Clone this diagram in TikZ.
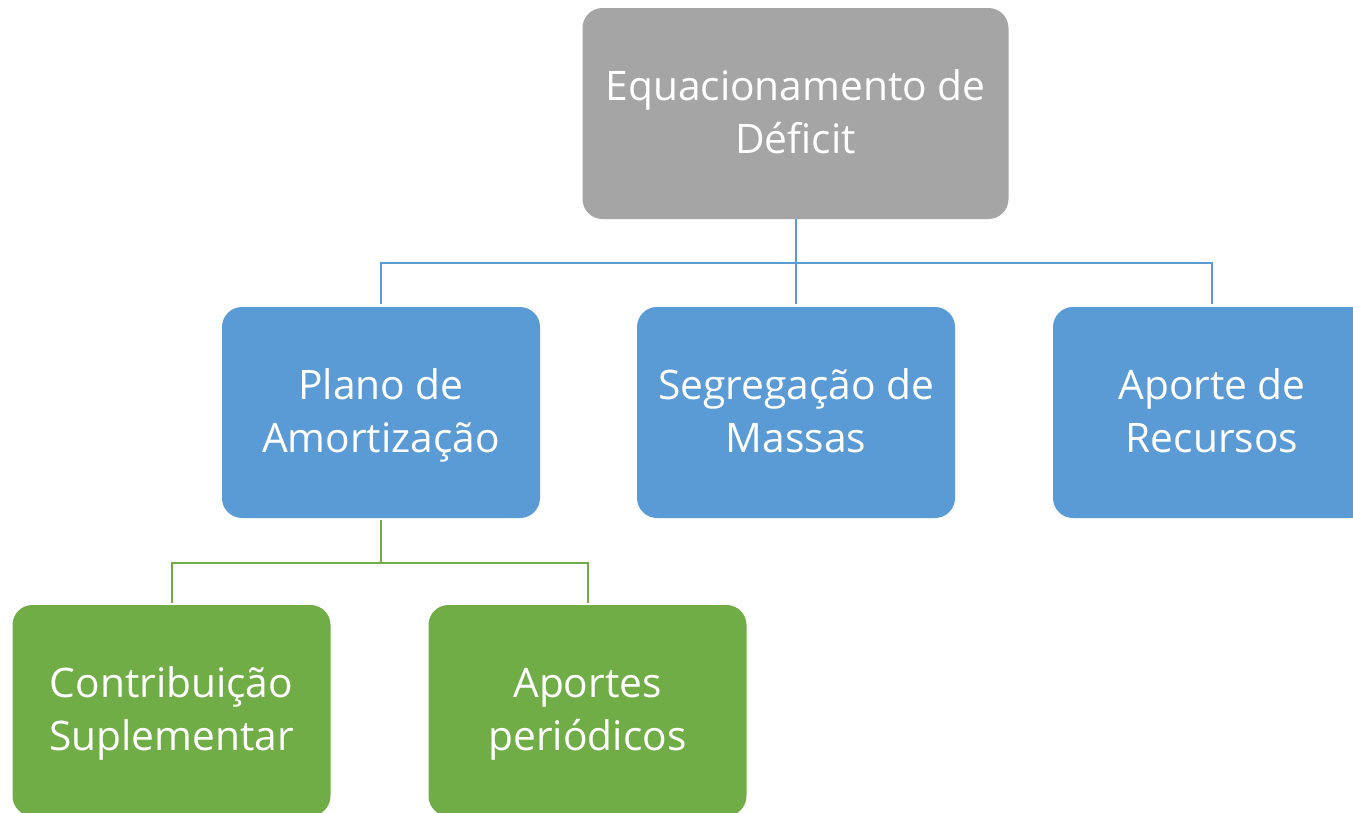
\documentclass[tikz,border=0pt]{standalone}
\usepackage{fontspec}
\setmainfont{Open Sans}
\definecolor{boxgray}{HTML}{A5A5A5}
\definecolor{boxblue}{HTML}{5B9BD5}
\definecolor{boxgreen}{HTML}{70AD47}
\newcommand\lnstrut{\rule[-13pt]{0pt}{53pt}}
\newcommand\twolines[2]{#1\lnstrut\\#2\lnstrut}
\begin{document}
\begin{tikzpicture}[x=1pt,y=-1pt,
  box/.style={rounded corners=20pt, inner sep=0pt, align=center, text=white,
    font=\fontsize{40.7}{53}\selectfont, minimum width=318pt, minimum height=211pt},
  graybox/.style={box, fill=boxgray, minimum width=426pt},
  bluebox/.style={box, fill=boxblue},
  greenbox/.style={box, fill=boxgreen},
  bline/.style={draw=boxblue, line width=2pt},
  gline/.style={draw=boxgreen, line width=2pt}]
\useasboundingbox (0,0) rectangle (1353,812);
\fill[white] (0,0) rectangle (1353,812);
\clip (0,0) rectangle (1353,812);
\node[graybox] (top) at (795.5,113.5) {\twolines{Equacionamento de}{Déficit}};
\node[bluebox] (plano) at (381,412.5) {\twolines{Plano de}{Amortização}};
\node[bluebox] (seg) at (796,412.5) {\twolines{Segregação de}{Massas}};
\node[bluebox] (aporte) at (1212,412.5) {\twolines{Aporte de}{Recursos}};
\node[greenbox] (contrib) at (171.5,710.5) {\twolines{Contribuição}{Suplementar}};
\node[greenbox] (aportes) at (587.5,710.5) {\twolines{Aportes}{periódicos}};
\coordinate (bj) at (795.5,263);
\coordinate (gj) at (381,563);
\draw[bline] (top.south) -- (bj);
\draw[bline] ([yshift=3pt]plano.north) -- (plano.north |- bj) -- (aporte.north |- bj) -- ([yshift=3pt]aporte.north);
\draw[bline] ([yshift=3pt]seg.north) -- (seg.north |- bj);
\draw[gline] ([yshift=-2pt]plano.south) -- (gj);
\draw[gline] ([yshift=2pt]contrib.north) -- (contrib.north |- gj) -- (aportes.north |- gj) -- ([yshift=2pt]aportes.north);
\end{tikzpicture}
\end{document}
